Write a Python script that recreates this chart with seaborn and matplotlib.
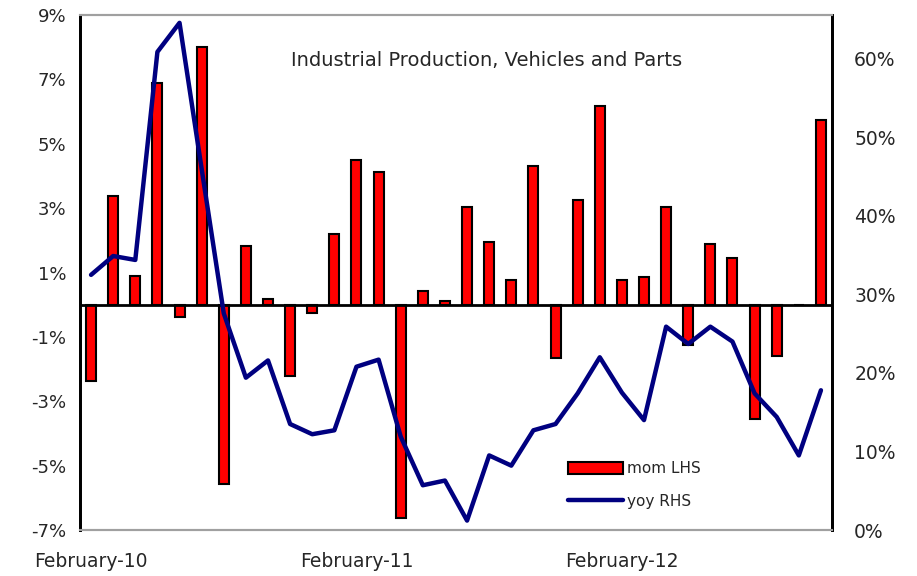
import matplotlib
matplotlib.use("Agg")
import matplotlib.pyplot as plt
import seaborn as sns
import numpy as np
import pandas as pd
from matplotlib.patches import Patch
from matplotlib.lines import Line2D
from matplotlib.ticker import FuncFormatter

# 月份 (Feb-2010 .. Nov-2012)
months = pd.date_range("2010-02-01", periods=34, freq="MS")
tick_labels = ["February-10", "February-11", "February-12"]
tick_pos = [0, 12, 24]

# 环比 (%), 左轴
mom = [-2.36, 3.39, 0.90, 6.90, -0.39, 8.02, -5.56, 1.81, 0.19, -2.23,
       -0.26, 2.20, 4.50, 4.11, -6.63, 0.44, 0.12, 3.05, 1.95, 0.78,
       4.32, -1.66, 3.26, 6.18, 0.78, 0.85, 3.05, -1.26, 1.88, 1.44,
       -3.54, -1.58, 0.0, 5.75]

# 同比 (%), 右轴
yoy = [32.5, 34.9, 34.4, 60.9, 64.6, 46.0, 27.6, 19.4, 21.6, 13.5,
       12.2, 12.7, 20.8, 21.7, 11.9, 5.7, 6.3, 1.2, 9.5, 8.2,
       12.7, 13.5, 17.4, 22.0, 17.5, 14.0, 25.9, 23.7, 25.9, 24.0,
       17.4, 14.4, 9.5, 17.8]

df = pd.DataFrame({"idx": np.arange(len(months)), "mom": mom, "yoy": yoy})

sns.set_style("white")
plt.rcParams["font.family"] = ["DejaVu Sans"]

fig = plt.figure(figsize=(9.17, 5.76), dpi=100)
ax = fig.add_axes([80 / 917, 46 / 576, 752 / 917, 515 / 576])

# 柱状图
sns.barplot(data=df, x="idx", y="mom", color="#ff0000", edgecolor="black",
            linewidth=1.5, width=0.45, saturation=1, ax=ax)
ax.axhline(0, color="black", lw=2, zorder=3)
ax.set_ylim(-7, 9)
ax.set_yticks(np.arange(-7, 10, 2))
ax.yaxis.set_major_formatter(FuncFormatter(lambda v, p: f"{v:.0f}%"))
ax.set_xlim(-0.5, 33.5)
ax.set_xticks(tick_pos)
ax.set_xticklabels(tick_labels)
ax.set_xlabel("")
ax.set_ylabel("")
ax.tick_params(axis="y", length=0, labelsize=13, pad=10)
ax.tick_params(axis="x", length=0, labelsize=13.5, pad=16)

# 折线图 (右轴)
ax2 = ax.twinx()
sns.lineplot(data=df, x="idx", y="yoy", color="#000080", lw=3.2, ax=ax2)
ax2.set_ylim(0, 65.6)
ax2.set_yticks(np.arange(0, 61, 10))
ax2.yaxis.set_major_formatter(FuncFormatter(lambda v, p: f"{v:.0f}%"))
ax2.set_xlim(-0.5, 33.5)
ax2.set_ylabel("")
ax2.set_xlabel("")
ax2.tick_params(axis="y", length=0, labelsize=13.5, pad=16)

for a in (ax, ax2):
    a.spines["top"].set_color("#a0a0a0")
    a.spines["top"].set_linewidth(1.5)
    a.spines["bottom"].set_color("#a0a0a0")
    a.spines["bottom"].set_linewidth(1.5)
    a.spines["left"].set_color("black")
    a.spines["left"].set_linewidth(2)
    a.spines["right"].set_color("black")
    a.spines["right"].set_linewidth(2)

ax.text(0.541, 0.912, "Industrial Production, Vehicles and Parts",
        transform=ax.transAxes, ha="center", va="center", fontsize=14)

handles = [Patch(facecolor="#ff0000", edgecolor="black", linewidth=1.5),
           Line2D([0], [0], color="#000080", lw=3.2)]
ax2.legend(handles, ["mom LHS", "yoy RHS"], loc="upper left",
           bbox_to_anchor=(0.63, 0.16), frameon=False, fontsize=11,
           handlelength=3.6, handleheight=0.8, labelspacing=1.15, handletextpad=0.3)

fig.savefig("out.png", dpi=100)
